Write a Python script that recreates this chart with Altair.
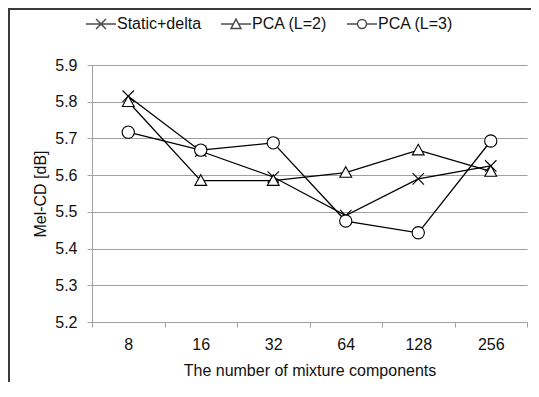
import altair as alt
import pandas as pd

components = ["8", "16", "32", "64", "128", "256"]
series_names = ["Static+delta", "PCA (L=2)", "PCA (L=3)"]
static_delta = [5.815, 5.665, 5.595, 5.49, 5.59, 5.625]
pca_l2 = [5.80, 5.585, 5.585, 5.607, 5.668, 5.61]
pca_l3 = [5.717, 5.668, 5.688, 5.475, 5.443, 5.693]
y_ticks = [5.2, 5.3, 5.4, 5.5, 5.6, 5.7, 5.8, 5.9]

rows = []
for name, vals in zip(series_names, [static_delta, pca_l2, pca_l3]):
    for c, v in zip(components, vals):
        rows.append({"comp": c, "series": name, "value": v})
df = pd.DataFrame(rows)

FONT = "Liberation Sans"
GRID = "#a0a0a0"

mark_paths = [
    "M-1,-1L1,1M-1,1L1,-1",
    "M0,-1L1,0.8L-1,0.8Z",
    "circle",
]
legend_paths = [
    "M-1,0L1,0M-0.33,-0.33L0.33,0.33M-0.33,0.33L0.33,-0.33",
    "M-1,0L-0.17,0M0.17,0L1,0M0,-0.33L0.33,0.3L-0.33,0.3Z",
    "M-1,0L-0.3,0M0.3,0L1,0M-0.3,0A0.3,0.3,0,1,0,0.3,0A0.3,0.3,0,1,0,-0.3,0Z",
]

x_enc = alt.X(
    "comp:N",
    sort=components,
    bandPosition=0.5,
    scale=alt.Scale(type="band", paddingInner=0, paddingOuter=0),
    axis=alt.Axis(
        title="The number of mixture components",
        labelAngle=0,
        tickBand="extent",
        grid=False,
        tickSize=5,
        labelPadding=9,
        titlePadding=10,
    ),
)
y_enc = alt.Y(
    "value:Q",
    scale=alt.Scale(domain=[5.2, 5.9], nice=False, zero=False),
    axis=alt.Axis(
        title="Mel-CD [dB]",
        values=y_ticks,
        format=".1f",
        tickSize=5,
        labelPadding=10,
        titlePadding=6,
        grid=True,
    ),
)

lines = alt.Chart(df).mark_line(color="black", strokeWidth=1.3).encode(
    x=x_enc, y=y_enc, detail="series:N"
)

points = alt.Chart(df).mark_point(
    fill="white", stroke="black", strokeWidth=1.1, opacity=1, filled=False
).encode(
    x=x_enc,
    y=y_enc,
    shape=alt.Shape(
        "series:N",
        scale=alt.Scale(domain=series_names, range=mark_paths),
        legend=None,
    ),
    size=alt.Size(
        "series:N",
        scale=alt.Scale(domain=series_names, range=[130, 150, 121]),
        legend=None,
    ),
)

legend_layer = alt.Chart(df).transform_filter("false").mark_point(
    fill="white", stroke="black", strokeWidth=1, filled=False
).encode(
    x=x_enc,
    y=y_enc,
    shape=alt.Shape(
        "series:N",
        scale=alt.Scale(domain=series_names, range=legend_paths),
        legend=alt.Legend(
            title=None,
            orient="none",
            direction="horizontal",
            legendX=-7,
            legendY=-57,
            symbolSize=900,
            labelFont=FONT,
            labelFontSize=16,
            labelColor="#111",
            labelOffset=0,
            columnPadding=16,
        ),
    ),
)

frame_left = alt.Chart(alt.Data(values=[{}])).mark_rule(
    color="#3a3a3a", strokeWidth=2
).encode(x=alt.value(-83), y=alt.value(-57), y2=alt.value(400))
frame_top = alt.Chart(alt.Data(values=[{}])).mark_rule(
    color="#3a3a3a", strokeWidth=2
).encode(y=alt.value(-56), x=alt.value(-84), x2=alt.value(500))

chart = (
    alt.layer(lines, legend_layer, points, frame_left, frame_top)
    .resolve_scale(shape="independent", size="independent")
    .properties(
        width=435,
        height=257,
        autosize=alt.AutoSizeParams(type="none"),
        padding={"left": 84, "top": 57, "right": 4, "bottom": 60},
        background="white",
    )
    .configure_view(stroke=None)
    .configure_axis(
        labelFont=FONT,
        titleFont=FONT,
        labelFontSize=16,
        titleFontSize=16,
        titleFontWeight="normal",
        labelColor="#111",
        titleColor="#111",
        domainColor=GRID,
        tickColor=GRID,
        gridColor=GRID,
        domainWidth=1,
        tickWidth=1,
        gridWidth=1,
    )
)

chart.save("out.html", embed_options={"renderer": "svg", "actions": False})
